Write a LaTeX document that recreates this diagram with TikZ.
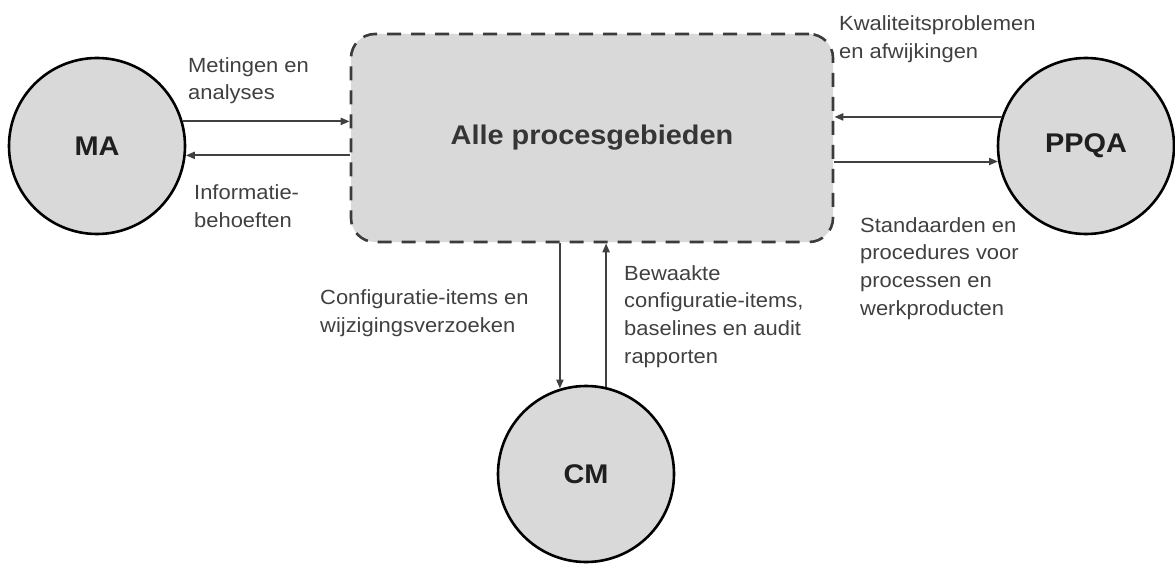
\documentclass[tikz,border=0pt]{standalone}
\usepackage{fontspec}
\setmainfont{Liberation Sans}[FakeStretch=1.07]
\usetikzlibrary{arrows.meta}

\definecolor{areafill}{HTML}{D9D9D9}
\definecolor{dashgray}{HTML}{3B3B3B}
\definecolor{linegray}{HTML}{404040}
\definecolor{labelgray}{HTML}{404040}
\definecolor{textdark}{HTML}{1F1F1F}

\begin{document}
\begin{tikzpicture}[x=1pt, y=-1pt,
  proc/.style={circle, draw=black, line width=2.6pt, fill=areafill,
    minimum size=176pt, inner sep=0pt,
    font=\fontsize{27}{27}\selectfont\bfseries, text=textdark},
  areabox/.style={rectangle, rounded corners=24pt, draw=dashgray,
    line width=2.6pt, dash pattern=on 14pt off 10pt, fill=areafill,
    minimum width=482pt, minimum height=208pt, inner sep=0pt,
    font=\fontsize{27}{27}\selectfont\bfseries, text=textdark!90},
  arr/.style={draw=linegray, line width=2pt,
    -{Triangle[length=9pt, width=7pt]}},
  lbl/.style={anchor=base west, align=left, inner sep=0pt,
    font=\fontsize{20.5}{27.6}\selectfont, text=labelgray}]

  \useasboundingbox (0,0) rectangle (1175,564);

  % process areas
  \node[areabox] (all) at (592,138) {Alle procesgebieden};
  \node[proc] (MA) at (97,146) {MA};
  \node[proc] (PPQA) at (1086,146) {PPQA};
  \node[proc] (CM) at (586,474) {CM};

  % information flows
  \draw[arr] (MA.16) -- (MA.16 -| all.west);
  \draw[arr] (MA.354 -| all.west) -- (MA.354);
  \draw[arr] (PPQA.161) -- (PPQA.161 -| all.east);
  \draw[arr] (PPQA.190 -| all.east) -- (PPQA.190);
  \draw[arr] (CM.107 |- all.south) -- (CM.107);
  \draw[arr] (CM.77) -- (CM.77 |- all.south);

  % flow labels (placed by the baseline of their last line)
  \node[lbl] (lMet) at (188,100) {Metingen en\\analyses};
  \node[lbl] (lInf) at (194,227) {Informatie-\\behoeften};
  \node[lbl] (lKwa) at (839,58.5) {Kwaliteitsproblemen\\en afwijkingen};
  \node[lbl] (lSta) at (860,315) {Standaarden en\\procedures voor\\processen en\\werkproducten};
  \node[lbl] (lCon) at (320,332.5) {Configuratie-items en\\wijzigingsverzoeken};
  \node[lbl] (lBew) at (624,363) {Bewaakte\\configuratie-items,\\baselines en audit\\rapporten};
\end{tikzpicture}
\end{document}
